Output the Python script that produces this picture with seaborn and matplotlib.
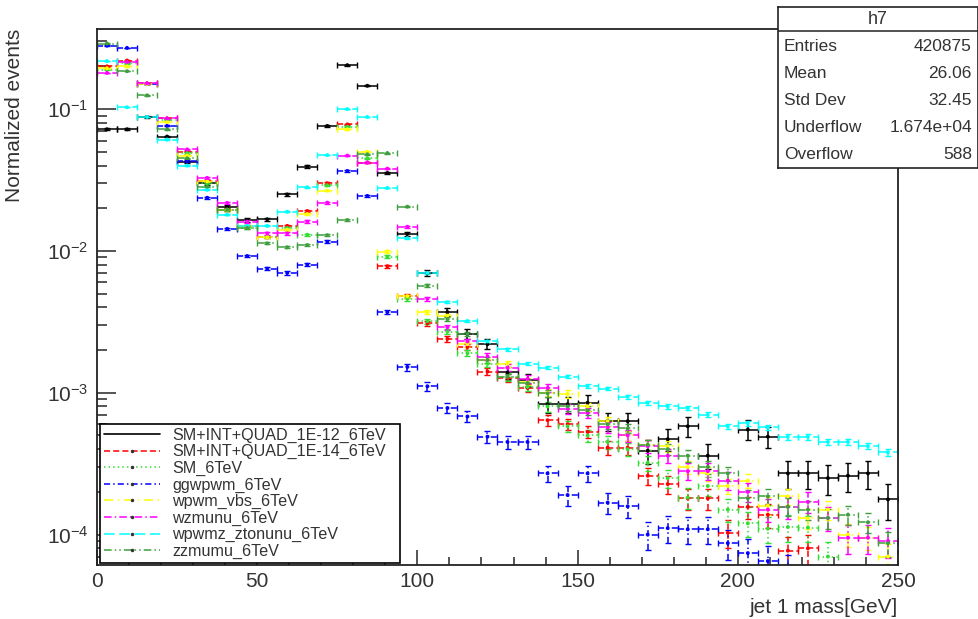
import numpy as np
import pandas as pd
import seaborn as sns
import matplotlib
matplotlib.use("Agg")
import matplotlib.pyplot as plt
from matplotlib.lines import Line2D
from matplotlib.ticker import LogLocator, MultipleLocator

nan = np.nan

## 40 bins of 6.25 GeV between 0 and 250
bin_edges = np.arange(0, 250.01, 6.25)

labels = ["SM+INT+QUAD_1E-12_6TeV", "SM+INT+QUAD_1E-14_6TeV", "SM_6TeV", "ggwpwm_6TeV",
          "wpwm_vbs_6TeV", "wzmunu_6TeV", "wpwmz_ztonunu_6TeV", "zzmumu_6TeV"]

quad_1e12 = [0.072, 0.072, 0.088, 0.064, 0.0425, 0.030, 0.0205, 0.0165, 0.0167, 0.025,
             0.0393, 0.076, 0.204, 0.146, 0.0354, 0.0132, 0.0070, 0.0037, 0.0026, 0.0022,
             0.00139, 0.00123, 0.00083, 0.00083, 0.00085, 0.00063, 0.00063, 0.00039, 0.00047, 0.00058,
             0.00036, nan, 0.00055, 0.00049, 0.00027, 0.00027, 0.00025, 0.00026, 0.00027, 0.000177]
quad_1e14 = [0.20, 0.22, 0.152, 0.086, 0.050, 0.031, 0.0195, 0.0149, 0.0125, 0.015,
             0.0191, 0.030, 0.078, 0.042, 0.0078, 0.0048, 0.0031, 0.0024, 0.0021, 0.00141,
             0.00127, 0.00108, 0.00064, 0.00060, 0.00053, 0.00041, 0.00041, 0.00026, 0.000227, 0.00018,
             0.00018, 0.000103, 0.000157, 0.000138, 7.7e-5, 8e-5, nan, nan, nan, nan]
sm = [0.19, 0.21, 0.15, 0.084, 0.049, 0.030, 0.0195, 0.0145, 0.0125, 0.0145,
      0.013, 0.029, 0.075, 0.045, 0.0091, 0.0046, 0.0032, 0.0027, 0.0019, 0.0016,
      0.0013, 0.0011, 0.0008, 0.00058, 0.0005, 0.00045, 0.0004, 0.00032, 0.00025, 0.000182,
      0.00022, 0.00015, 0.00012, 0.00011, 0.000113, 0.000112, 7e-5, nan, nan, nan]
ggwpwm = [0.28, 0.27, 0.15, 0.076, 0.043, 0.0237, 0.0143, 0.0092, 0.0075, 0.0070,
          0.008, 0.0116, 0.0366, 0.0244, 0.0037, 0.00152, 0.00111, 0.00078, 0.00068, 0.00049,
          0.00045, 0.00045, 0.00027, 0.00019, 0.00027, 0.000168, 0.000158, 0.0001, 0.000111, 0.000109,
          0.000109, 8.7e-5, 7.4e-5, 6.5e-5, 5.5e-5, nan, nan, nan, nan, nan]
wpwm_vbs = [0.194, 0.20, 0.15, 0.081, 0.047, 0.031, 0.0195, 0.0149, 0.0125, 0.0141,
            0.0182, 0.0266, 0.072, 0.050, 0.0099, 0.0048, 0.0037, 0.0035, 0.0022, 0.0017,
            0.0016, 0.0012, 0.0010, 0.00098, 0.0008, 0.00063, 0.0005, 0.00043, 0.00042, 0.0003,
            0.00027, 0.00022, 0.00024, 0.00016, 0.000186, 0.00013, 0.00015, 0.0001, 9.5e-5, 7e-5]
wzmunu = [0.18, 0.215, 0.152, 0.086, 0.052, 0.0327, 0.0218, 0.0161, 0.0133, 0.0133,
          0.0161, 0.0219, 0.047, 0.042, 0.038, 0.0148, 0.0046, 0.0029, 0.0023, 0.0018,
          0.0015, 0.00125, 0.00108, 0.00077, 0.00072, 0.00057, 0.0005, 0.00042, 0.00036, 0.00028,
          0.00028, 0.00024, 0.0002, 0.00015, 0.000157, 0.00017, 0.000131, 9.5e-5, 9.5e-5, 9e-5]
ztonunu = [0.218, 0.103, 0.088, 0.061, 0.040, 0.027, 0.018, 0.015, 0.015, 0.0189,
           0.0281, 0.0474, 0.10, 0.088, 0.0278, 0.0123, 0.0070, 0.00434, 0.0032, 0.0023,
           0.00202, 0.0016, 0.0015, 0.0013, 0.00111, 0.00107, 0.00094, 0.00085, 0.0008, 0.00078,
           0.0007, 0.00058, 0.00061, 0.00057, 0.00049, 0.00049, 0.00045, 0.00045, 0.00042, 0.00038]
zzmumu = [0.29, 0.185, 0.125, 0.072, 0.045, 0.0284, 0.0195, 0.0145, 0.0113, 0.0106,
          0.011, 0.0129, 0.0165, 0.048, 0.049, 0.0205, 0.0057, 0.0033, 0.0026, 0.0017,
          0.0013, 0.00117, 0.00099, 0.0008, 0.00075, 0.0006, 0.00056, 0.00043, 0.0004, 0.00036,
          0.0003, 0.00027, 0.00018, 0.000186, 0.000157, 0.00015, 0.000131, 0.000138, 0.000122, 8.7e-5]

series = [quad_1e12, quad_1e14, sm, ggwpwm, wpwm_vbs, wzmunu, ztonunu, zzmumu]
## effective number of entries, used for the poisson error bars
n_eff = [7e4, 2e5, 2e5, 2e5, 3e5, 2e5, 1e6, 3e5]

colors = ["#000000", "#ff0000", "#33dd33", "#0000ff", "#ffff00", "#ff00ff", "#00ffff", "#3f9f3f"]
styles = ["-", (0, (4, 2)), (0, (1, 2)), (0, (4, 2, 1, 2)), (0, (6, 3, 1, 3)),
          (0, (5, 2, 1, 2)), (0, (7, 3)), (0, (5, 2, 1, 2, 1, 2))]

centers = 0.5 * (bin_edges[:-1] + bin_edges[1:])
half = 0.5 * np.diff(bin_edges)

rows = []
for lab, vals in zip(labels, series):
    for c, v in zip(centers, vals):
        rows.append({"sample": lab, "mass": c, "value": v})
df = pd.DataFrame(rows)

sns.set_style("ticks")
plt.rcParams["font.family"] = ["Liberation Sans", "DejaVu Sans"]
plt.rcParams["mathtext.fontset"] = "custom"
plt.rcParams["mathtext.rm"] = "Liberation Sans"

fig = plt.figure(figsize=(9.79, 6.19), dpi=100)
ax = fig.add_axes([97 / 979, 1 - 565 / 619, 801 / 979, 536 / 619])

for lab, col, ls, n in zip(labels, colors, styles, n_eff):
    d = df[df["sample"] == lab]
    v = d["value"].to_numpy()
    err = np.sqrt(v / n)
    eb = ax.errorbar(d["mass"], v, xerr=half, yerr=err, fmt="none", ecolor=col,
                     elinewidth=1.1, capsize=2.5, capthick=1.0)
    for lc in eb[2]:
        lc.set_linestyle(ls)

sns.scatterplot(data=df, x="mass", y="value", hue="sample", palette=dict(zip(labels, colors)),
                s=8, linewidth=0, legend=False, ax=ax, zorder=5)

ax.set_yscale("log")
ax.set_xlim(0, 250)
ax.set_ylim(6.1e-5, 0.367)
ax.xaxis.set_major_locator(MultipleLocator(50))
ax.xaxis.set_minor_locator(MultipleLocator(10))
ax.yaxis.set_major_locator(LogLocator(base=10))
ax.yaxis.set_minor_locator(LogLocator(base=10, subs=np.arange(2, 10)))
ax.tick_params(axis="x", which="major", direction="in", length=11, width=1.1, labelsize=15, pad=5,
               labelcolor="#333333")
ax.tick_params(axis="x", which="minor", direction="in", length=5.5, width=1.1)
ax.tick_params(axis="y", which="major", direction="in", length=14, width=1.1, labelsize=15, pad=6,
               labelcolor="#333333")
ax.tick_params(axis="y", which="minor", direction="in", length=7, width=1.1)
for sp in ax.spines.values():
    sp.set_linewidth(1.3)
    sp.set_color("#222222")

ax.set_xlabel("jet 1 mass[GeV]", fontsize=15, loc="right", color="#333333")
ax.xaxis.set_label_coords(1.0, -0.062)
ax.set_ylabel("Normalized events", fontsize=15, loc="top", color="#333333")
ax.yaxis.set_label_coords(-0.091, 1.0)

handles = [Line2D([0], [0], color=c, ls=s, lw=1.1, marker=".", markersize=3,
                  markerfacecolor="#333333", markeredgecolor="#333333") for c, s in zip(colors, styles)]
handles[0] = Line2D([0], [0], color="black", lw=1.2)
leg = ax.legend(handles, labels, loc="lower left",
                bbox_to_anchor=(100 / 979, 56 / 619, 300 / 979, 141 / 619),
                bbox_transform=fig.transFigure, mode="expand", borderaxespad=0,
                fontsize=11.6, labelspacing=0.09, handlelength=3.5, handletextpad=0.75,
                borderpad=0.25, fancybox=False, edgecolor="black", framealpha=1)
leg.get_frame().set_linewidth(1.2)
for t in leg.get_texts():
    t.set_color("#333333")

## stat box in the top right corner
sb = fig.add_axes([778 / 979, 1 - 168 / 619, 200 / 979, 161 / 619], zorder=10)
sb.set_facecolor("white")
sb.set_xticks([])
sb.set_yticks([])
for sp in sb.spines.values():
    sp.set_linewidth(1.2)
    sp.set_color("#222222")
sb.set_xlim(0, 1)
sb.set_ylim(0, 1)
sb.axhline(0.851, color="#222222", lw=1.1)
sb.text(0.5, 0.925, "h7", ha="center", va="center", fontsize=13, color="#333333")
stat_names = ["Entries", "Mean", "Std Dev", "Underflow", "Overflow"]
stat_vals = ["420875", "26.06", "32.45", "1.674e+04", "588"]
for i, (nm, vl) in enumerate(zip(stat_names, stat_vals)):
    yy = 0.7516 - i * 0.1662
    sb.text(0.03, yy, nm, ha="left", va="center", fontsize=12.5, color="#333333")
    sb.text(0.97, yy, vl, ha="right", va="center", fontsize=12.5, color="#333333")

fig.savefig("out.png", dpi=100)
